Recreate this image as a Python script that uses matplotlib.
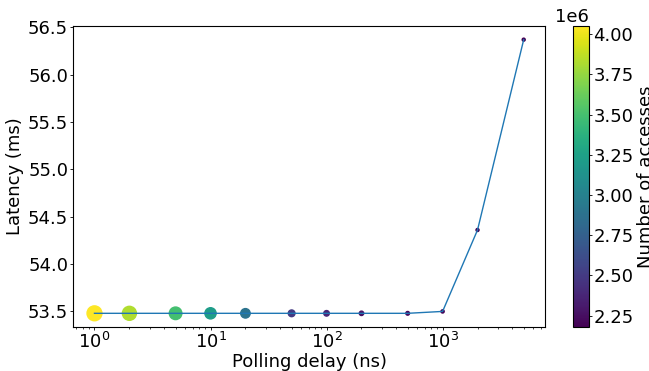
import matplotlib
matplotlib.use("Agg")
import matplotlib.pyplot as plt
import numpy as np

# data
delay = [1, 2, 5, 10, 20, 50, 100, 200, 500, 1000, 2000, 5000]  # ns
latency = [53.48, 53.48, 53.48, 53.48, 53.48, 53.48, 53.48, 53.48, 53.48, 53.50, 54.36, 56.37]  # ms
accesses = [4.05e6, 3.83e6, 3.49e6, 3.21e6, 2.89e6, 2.50e6, 2.37e6, 2.27e6, 2.22e6, 2.19e6, 2.18e6, 2.18e6]


def main():
    plt.rcParams["font.size"] = 13
    plt.rcParams["font.family"] = "DejaVu Sans"
    # short ticks, tight padding (the original looks downscaled)
    for a in ("xtick", "ytick"):
        plt.rcParams[a + ".major.size"] = 2.0
        plt.rcParams[a + ".minor.size"] = 1.2
        plt.rcParams[a + ".major.pad"] = 1.5
        plt.rcParams[a + ".minor.pad"] = 1.5
        plt.rcParams[a + ".major.width"] = 0.6
        plt.rcParams[a + ".minor.width"] = 0.5
    plt.rcParams["axes.labelpad"] = 2.5

    fig = plt.figure(figsize=(6.49, 3.71), dpi=100, facecolor="w")
    ax = fig.add_axes([0.1125, 0.1186, 0.7275, 0.8114])
    cax = fig.add_axes([0.883, 0.1186, 0.024, 0.8114])

    acc = np.array(accesses)
    sizes = (acc - 2.1e6) / 1.7e4  # marker area grows with accesses

    sc = ax.scatter(delay, latency, c=acc, s=sizes, cmap="viridis")
    ax.plot(delay, latency, lw=1)
    ax.set_xscale("log")
    ax.set_xlabel("Polling delay (ns)", labelpad=0.5)
    ax.set_ylabel("Latency (ms)")
    ax.set_yticks(np.arange(53.5, 56.51, 0.5))

    cb = fig.colorbar(sc, cax=cax)
    cb.set_label("Number of accesses")

    fig.savefig("out.png", dpi=100)


if __name__ == '__main__': main()
